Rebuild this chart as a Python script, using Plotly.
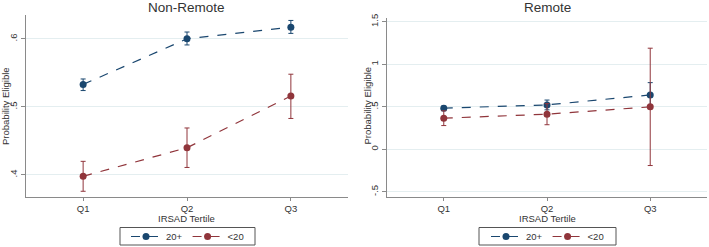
import plotly.graph_objects as go

categories = ["Q1", "Q2", "Q3"]
xpos = [1, 2, 3]

# Non-Remote panel
nr_20p = [0.533, 0.600, 0.617]
nr_20p_lo = [0.524, 0.591, 0.608]
nr_20p_hi = [0.541, 0.610, 0.627]
nr_lt20 = [0.398, 0.440, 0.516]
nr_lt20_lo = [0.376, 0.411, 0.483]
nr_lt20_hi = [0.420, 0.469, 0.548]

# Remote panel
r_20p = [0.485, 0.523, 0.640]
r_20p_lo = [0.460, 0.465, 0.500]
r_20p_hi = [0.510, 0.580, 0.785]
r_lt20 = [0.367, 0.414, 0.500]
r_lt20_lo = [0.280, 0.290, -0.190]
r_lt20_hi = [0.454, 0.538, 1.190]

nr_ticks = [0.4, 0.5, 0.6]
nr_ticktext = [".4", ".5", ".6"]
r_ticks = [-0.5, 0, 0.5, 1, 1.5]
r_ticktext = ["-.5", "0", ".5", "1", "1.5"]

NAVY = "#1a476f"
MAROON = "#90353b"
GRID = "#e4eef0"
AXIS = "#8a8a8a"
TXT = "#333333"
FONT = "Liberation Sans, Arial, sans-serif"

W, H = 709, 247


def px_x(p):
    return p / W


def px_y(p):
    return 1 - p / H


def add_series(fig, y, lo, hi, color, name, xa, ya, legend, show):
    fig.add_trace(go.Scatter(
        x=xpos, y=y, mode="lines+markers", name=name,
        line=dict(color=color, width=1.2, dash="dash"),
        marker=dict(color=color, size=7),
        error_y=dict(type="data", symmetric=False,
                     array=[h - v for h, v in zip(hi, y)],
                     arrayminus=[v - l for v, l in zip(y, lo)],
                     color=color, thickness=1, width=2.5),
        xaxis=xa, yaxis=ya, legend=legend, showlegend=show,
    ))


fig = go.Figure()
add_series(fig, nr_20p, nr_20p_lo, nr_20p_hi, NAVY, "20+", "x", "y", "legend", True)
add_series(fig, nr_lt20, nr_lt20_lo, nr_lt20_hi, MAROON, "<20", "x", "y", "legend", True)
add_series(fig, r_20p, r_20p_lo, r_20p_hi, NAVY, "20+", "x2", "y2", "legend2", True)
add_series(fig, r_lt20, r_lt20_lo, r_lt20_hi, MAROON, "<20", "x2", "y2", "legend2", True)

xcommon = dict(range=[0.45, 3.55], tickvals=xpos, ticktext=categories,
               showgrid=False, zeroline=False, showline=True, linecolor=AXIS,
               linewidth=1, ticks="outside", ticklen=3, tickcolor=AXIS,
               automargin=False,
               tickfont=dict(size=9.5, color=TXT, family=FONT))
ycommon = dict(showgrid=True, gridcolor=GRID, gridwidth=1, zeroline=False,
               showline=True, linecolor=AXIS, linewidth=1, ticks="outside",
               ticklen=4, tickcolor=AXIS, tickangle=-90, automargin=False,
               tickfont=dict(size=9.5, color=TXT, family=FONT))

legcommon = dict(orientation="h", xanchor="center", y=px_y(236.5),
                 yanchor="middle", borderwidth=0,
                 font=dict(size=9.5, color=TXT, family=FONT), itemwidth=30,
                 tracegroupgap=0, bgcolor="rgba(0,0,0,0)")

fig.update_layout(
    width=W, height=H, margin=dict(l=0, r=0, t=0, b=0, autoexpand=False),
    paper_bgcolor="white", plot_bgcolor="white",
    font=dict(family=FONT, color=TXT),
    xaxis=dict(domain=[px_x(26), px_x(348)], anchor="y", **xcommon),
    yaxis=dict(domain=[px_y(197), px_y(15)], anchor="x",
               range=[0.3676, 0.635], tickvals=nr_ticks, ticktext=nr_ticktext,
               **ycommon),
    xaxis2=dict(domain=[px_x(387), px_x(707)], anchor="y2", **xcommon),
    yaxis2=dict(domain=[px_y(197), px_y(18)], anchor="x2",
                range=[-0.56, 1.545], tickvals=r_ticks, ticktext=r_ticktext,
                **ycommon),
    legend=dict(x=px_x(187.5), **legcommon),
    legend2=dict(x=px_x(547.5), **legcommon),
)

# legend frames
for x0, x1 in ((120, 255), (479, 616)):
    fig.add_shape(type="rect", xref="paper", yref="paper",
                  x0=px_x(x0), x1=px_x(x1), y0=px_y(245), y1=px_y(227.5),
                  line=dict(color="#555555", width=1), fillcolor="rgba(0,0,0,0)",
                  layer="below")

annos = [
    dict(text="Non-Remote", x=px_x(187), y=px_y(7), size=13.5),
    dict(text="Remote", x=px_x(547), y=px_y(8), size=13.5),
    dict(text="IRSAD Tertile", x=px_x(187), y=px_y(218.5), size=9.5),
    dict(text="IRSAD Tertile", x=px_x(547), y=px_y(218.5), size=9.5),
]
for a in annos:
    fig.add_annotation(text=a["text"], x=a["x"], y=a["y"], xref="paper", yref="paper",
                       xanchor="center", yanchor="middle", showarrow=False,
                       font=dict(size=a["size"], color=TXT, family=FONT))
for xc in (5, 366.5):
    fig.add_annotation(text="Probability Eligible", x=px_x(xc), y=px_y(106),
                       xref="paper", yref="paper", xanchor="center", yanchor="middle",
                       showarrow=False, textangle=-90,
                       font=dict(size=9.5, color=TXT, family=FONT))

fig.write_html("out.html")
